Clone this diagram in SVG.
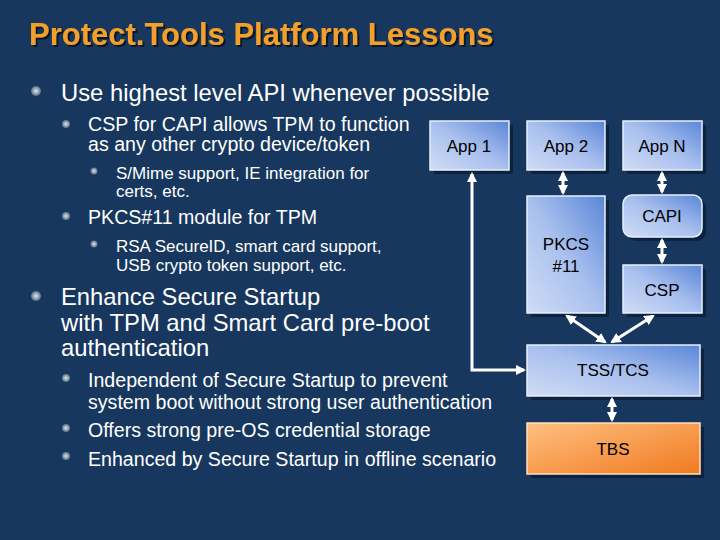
<svg xmlns="http://www.w3.org/2000/svg" width="720" height="540" viewBox="0 0 720 540">
<defs>
<style>
text{font-family:"Liberation Sans",Arial,sans-serif;fill:#fff}
.t1{font-size:23.8px}.t2{font-size:19.6px}.t3{font-size:17px}
.nl{font-size:17px;fill:#000;text-anchor:middle}
.box{fill:url(#bl);stroke:#e8f0ff;stroke-width:1.5}
.sh{fill:#0a1a30;opacity:.7}
.c{stroke:#fff;stroke-width:3;fill:none}
</style>
<filter id="ds" x="-5%" y="-20%" width="110%" height="140%"><feDropShadow dx="2" dy="2" stdDeviation="0.5" flood-color="#000" flood-opacity=".6"/></filter>
<linearGradient id="bl" x1="0" y1="1" x2="1" y2="0"><stop offset="0" stop-color="#cfdcf5"/><stop offset=".5" stop-color="#a9c0ee"/><stop offset="1" stop-color="#5a86d8"/></linearGradient>
<linearGradient id="or" x1="0" y1="0" x2="1" y2="1"><stop offset="0" stop-color="#ffc080"/><stop offset="1" stop-color="#f07a20"/></linearGradient>
<radialGradient id="bul"><stop offset="0" stop-color="#e0e8f0"/><stop offset="1" stop-color="#5a7088"/></radialGradient>
<marker id="a" viewBox="0 0 10 10" refX="8" refY="5" markerWidth="3.5" markerHeight="3.5" orient="auto-start-reverse"><path d="M0,0L10,5L0,10z" fill="#fff"/></marker>
</defs>
<rect width="720" height="540" fill="#17375e"/>
<text x="29" y="45" font-size="31" font-weight="bold" style="fill:#f2a02c" filter="url(#ds)">Protect.Tools Platform Lessons</text>
<g fill="url(#bul)">
<circle cx="36" cy="91" r="5"/><circle cx="66" cy="124" r="4"/><circle cx="94" cy="171" r="3.5"/><circle cx="66" cy="216" r="4"/><circle cx="94" cy="244" r="3.5"/><circle cx="36" cy="296" r="5"/><circle cx="66" cy="378" r="4"/><circle cx="66" cy="428" r="4"/><circle cx="66" cy="456" r="4"/>
</g>
<text class="t1" x="61" y="101">Use highest level API whenever possible</text>
<text class="t2" x="88" y="131">CSP for CAPI allows TPM to function</text>
<text class="t2" x="88" y="151">as any other crypto device/token</text>
<text class="t3" x="116" y="179">S/Mime support, IE integration for</text>
<text class="t3" x="116" y="197">certs, etc.</text>
<text class="t2" x="88" y="224">PKCS#11 module for TPM</text>
<text class="t3" x="116" y="252">RSA SecureID, smart card support,</text>
<text class="t3" x="116" y="271">USB crypto token support, etc.</text>
<text class="t1" x="61" y="305">Enhance Secure Startup</text>
<text class="t1" x="61" y="331">with TPM and Smart Card pre-boot</text>
<text class="t1" x="61" y="356">authentication</text>
<text class="t2" x="88" y="387">Independent of Secure Startup to prevent</text>
<text class="t2" x="88" y="409">system boot without strong user authentication</text>
<text class="t2" x="88" y="437">Offers strong pre-OS credential storage</text>
<text class="t2" x="88" y="466">Enhanced by Secure Startup in offline scenario</text>
<g id="app1"><rect class="sh" x="434" y="125" width="79" height="49"/><rect class="box" x="430" y="121" width="79" height="49"/><text class="nl" x="469" y="152">App 1</text></g>
<g id="app2"><rect class="sh" x="531" y="125" width="78" height="49"/><rect class="box" x="527" y="121" width="78" height="49"/><text class="nl" x="566" y="152">App 2</text></g>
<g id="appn"><rect class="sh" x="627" y="125" width="79" height="49"/><rect class="box" x="623" y="121" width="79" height="49"/><text class="nl" x="662" y="152">App N</text></g>
<g id="pkcs"><rect class="sh" x="531" y="200" width="78" height="117"/><rect class="box" x="527" y="196" width="78" height="117"/><text class="nl" x="566" y="250">PKCS</text><text class="nl" x="566" y="272">#11</text></g>
<g id="capi"><rect class="sh" x="627" y="199" width="79" height="42" rx="9"/><rect class="box" x="623" y="195" width="79" height="42" rx="9"/><text class="nl" x="662" y="222">CAPI</text></g>
<g id="csp"><rect class="sh" x="627" y="269" width="79" height="48"/><rect class="box" x="623" y="265" width="79" height="48"/><text class="nl" x="662" y="296">CSP</text></g>
<g id="tss"><rect class="sh" x="531" y="349" width="173" height="51"/><rect class="box" x="527" y="345" width="173" height="51"/><text class="nl" x="613" y="376">TSS/TCS</text></g>
<g id="tbs"><rect class="sh" x="531" y="427" width="173" height="51"/><rect x="527" y="423" width="173" height="51" fill="url(#or)" stroke="#ffe0c0" stroke-width="1.5"/><text class="nl" x="613" y="455">TBS</text></g>
<g id="connectors">
<path class="c" d="M472,174V370H524" marker-start="url(#a)" marker-end="url(#a)"/>
<path class="c" d="M563,173V193" marker-start="url(#a)" marker-end="url(#a)"/>
<path class="c" d="M662,173V192" marker-start="url(#a)" marker-end="url(#a)"/>
<path class="c" d="M662,240V262" marker-start="url(#a)" marker-end="url(#a)"/>
<path class="c" d="M567,316L605,342" marker-start="url(#a)" marker-end="url(#a)"/>
<path class="c" d="M653,316L612,342" marker-start="url(#a)" marker-end="url(#a)"/>
<path class="c" d="M612,399V420" marker-start="url(#a)" marker-end="url(#a)"/>
</g>
</svg>
